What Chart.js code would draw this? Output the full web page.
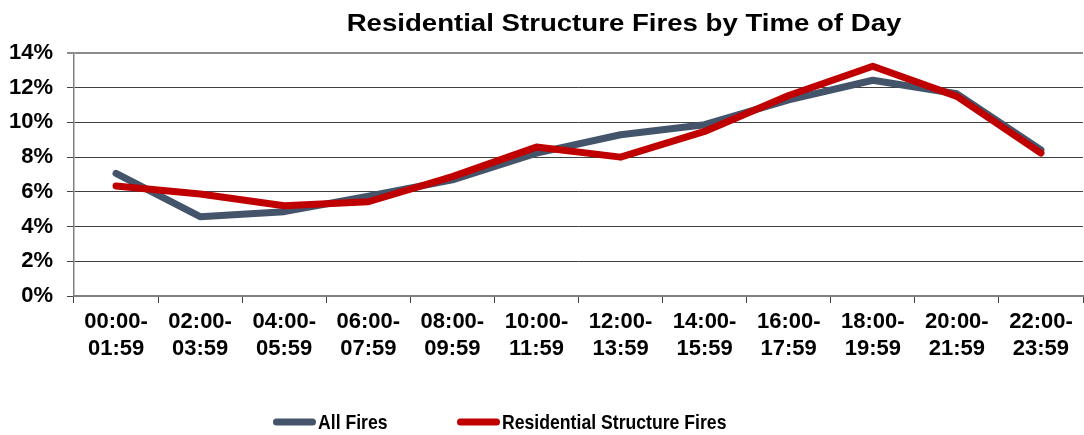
<!DOCTYPE html>
<html>
<head>
<meta charset="utf-8">
<script src="https://cdn.jsdelivr.net/npm/chart.js@4.4.1/dist/chart.umd.min.js"></script>
<style>
  html, body { margin: 0; padding: 0; background: #fff; }
  #wrap { width: 1084px; height: 435px; position: relative; }
</style>
</head>
<body>
<div id="wrap"><canvas id="fireChart"></canvas></div>
<script>
// chart data
const chartTitle = 'Residential Structure Fires by Time of Day'
const timeSlots = [
  ['00:00-', '01:59'], ['02:00-', '03:59'], ['04:00-', '05:59'], ['06:00-', '07:59'],
  ['08:00-', '09:59'], ['10:00-', '11:59'], ['12:00-', '13:59'], ['14:00-', '15:59'],
  ['16:00-', '17:59'], ['18:00-', '19:59'], ['20:00-', '21:59'], ['22:00-', '23:59']
]
const seriesNames = ['All Fires', 'Residential Structure Fires']
const allFires = [7.07, 4.57, 4.86, 5.75, 6.69, 8.23, 9.29, 9.87, 11.3, 12.43, 11.65, 8.42]
const residentialFires = [6.34, 5.88, 5.2, 5.43, 6.88, 8.58, 8.0, 9.48, 11.55, 13.24, 11.5, 8.23]

const GRAY = '#44546A'
const RED = '#C00000'
const FONT = "'Liberation Sans', Arial, sans-serif"

// title + legend drawn by hand so they sit where the original has them
const titleAndLegend = {
  id: 'titleAndLegend',
  afterDraw(chart) {
    const ctx = chart.ctx
    ctx.save()
    ctx.fillStyle = '#000'
    ctx.font = 'bold 24px ' + FONT
    ctx.textAlign = 'center'
    ctx.textBaseline = 'middle'
    // the original title is a little wider than plain Arial
    ctx.translate(624, 24)
    ctx.scale(1.15, 1)
    ctx.fillText(chartTitle, 0, 0)
    ctx.restore()

    const items = [
      { x: 273, color: GRAY, text: seriesNames[0] },
      { x: 457, color: RED, text: seriesNames[1] }
    ]
    items.forEach(it => {
      ctx.save()
      ctx.strokeStyle = it.color
      ctx.lineWidth = 7
      ctx.lineCap = 'round'
      ctx.beginPath()
      ctx.moveTo(it.x + 3.5, 422)
      ctx.lineTo(it.x + 39.5, 422)
      ctx.stroke()
      // legend text is narrow in the original
      ctx.fillStyle = '#000'
      ctx.font = 'bold 21px ' + FONT
      ctx.textAlign = 'left'
      ctx.textBaseline = 'middle'
      ctx.translate(it.x + 45, 423)
      ctx.scale(0.84, 1)
      ctx.fillText(it.text, 0, 0)
      ctx.restore()
    })
  }
}

const ctx = document.getElementById('fireChart').getContext('2d')
new Chart(ctx, {
  type: 'line',
  data: {
    labels: timeSlots,
    datasets: [
      {
        label: seriesNames[0],
        data: allFires,
        borderColor: GRAY,
        backgroundColor: GRAY,
        borderWidth: 7,
        pointRadius: 0,
        tension: 0,
        borderCapStyle: 'round',
        borderJoinStyle: 'round',
        order: 2
      },
      {
        label: seriesNames[1],
        data: residentialFires,
        borderColor: RED,
        backgroundColor: RED,
        borderWidth: 7,
        pointRadius: 0,
        tension: 0,
        borderCapStyle: 'round',
        borderJoinStyle: 'round',
        order: 1
      }
    ]
  },
  options: {
    responsive: true,
    maintainAspectRatio: false,
    animation: false,
    layout: { padding: { top: 53, right: 1, left: 0, bottom: 0 } },
    plugins: {
      legend: { display: false },
      title: { display: false },
      tooltip: { enabled: false }
    },
    scales: {
      x: {
        offset: true,
        grid: {
          offset: true,
          drawOnChartArea: false,
          drawTicks: true,
          tickLength: 7,
          color: '#404040'
        },
        border: { color: '#808080', width: 2 },
        ticks: {
          color: '#000',
          padding: 6,
          maxRotation: 0,
          autoSkip: false,
          font: { family: FONT, size: 22, weight: 'bold', lineHeight: 1.22 }
        },
        afterFit(scale) { scale.height = 139 }
      },
      y: {
        min: 0,
        max: 14,
        ticks: {
          stepSize: 2,
          color: '#000',
          padding: 14,
          font: { family: FONT, size: 22, weight: 'bold' },
          callback: v => v + '%'
        },
        grid: {
          color: ctx => ctx.tick && ctx.tick.value === 14 ? '#8c8c8c' : '#404040',
          lineWidth: ctx => ctx.tick && ctx.tick.value === 14 ? 2 : 1,
          tickLength: 7
        },
        border: { color: '#808080', width: 1.5 },
        afterFit(scale) { scale.width = 74 }
      }
    }
  },
  plugins: [titleAndLegend]
})
</script>
</body>
</html>
